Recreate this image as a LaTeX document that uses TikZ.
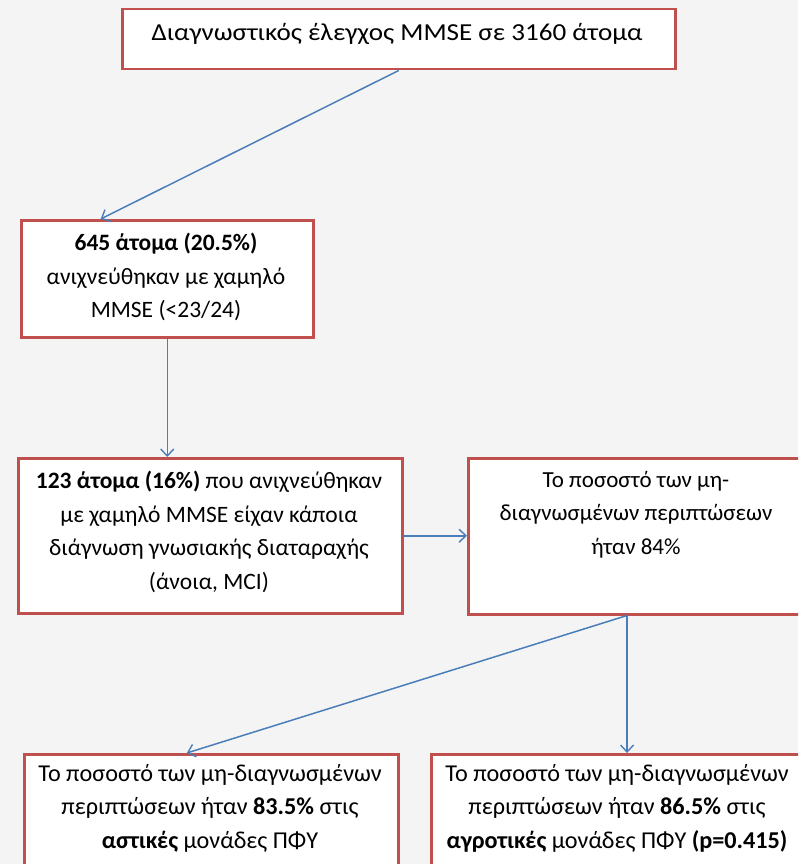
\documentclass[tikz,border=0pt]{standalone}
\usepackage{fontspec}
\setmainfont{Carlito}
\usetikzlibrary{arrows.meta,calc}
\definecolor{boxred}{HTML}{C0504D}
\definecolor{arrowblue}{HTML}{4A7EBB}
\definecolor{bgray}{HTML}{F4F4F4}
\begin{document}
\begin{tikzpicture}[x=1pt,y=-1pt,
  box/.style={draw=boxred, line width=2.5pt, fill=white, inner sep=0pt, anchor=north west},
  txt/.style={anchor=base, align=center, inner sep=0pt, font=\fontsize{23.5}{33.5}\selectfont},
  conn/.style={draw=arrowblue, line width=1.5pt, -{Straight Barb[length=7pt,width=13pt,line width=1.4pt]}}
]
\useasboundingbox (0,0) rectangle (798,864);
\fill[bgray] (0,0) rectangle (798,864);
\clip (0,0) rectangle (798,864);

% boxes
\node[box, minimum width=553pt, minimum height=60pt] (b1) at (121,8) {};
\node[box, minimum width=292pt, minimum height=117pt] (b2) at (20,219) {};
\node[box, minimum width=384pt, minimum height=155pt] (b3) at (17,457) {};
\node[box, minimum width=338pt, minimum height=156pt] (b4) at (467,457) {};
\node[box, minimum width=374pt, minimum height=130pt] (b5) at (23,753) {};
\node[box, minimum width=374pt, minimum height=130pt] (b6) at (430,753) {};

% texts
\node[txt, font=\fontsize{24.4}{33.5}\selectfont] (t1) at (397,41) {\scalebox{1.11}[1]{Διαγνωστικός έλεγχος MMSE σε 3160 άτομα}};
\node[txt, anchor=north] (t2) at (166,233) {\textbf{645 άτομα (20.5\%)}\\ανιχνεύθηκαν με χαμηλό\\MMSE (<23/24)};
\node[txt, anchor=north] (t3) at (209,471) {\textbf{123 άτομα (16\%)} που ανιχνεύθηκαν\\με χαμηλό MMSE είχαν κάποια\\διάγνωση γνωσιακής διαταραχής\\(άνοια, MCI)};
\node[txt, anchor=north, font=\fontsize{23}{33.5}\selectfont] (t4) at (636,471) {Το ποσοστό των μη-\\διαγνωσμένων περιπτώσεων\\ήταν 84\%};
\node[txt, anchor=north, font=\fontsize{24.2}{33.5}\selectfont] (t5) at (210,764) {Το ποσοστό των μη-διαγνωσμένων\\περιπτώσεων ήταν \textbf{83.5\%} στις\\\textbf{αστικές} μονάδες ΠΦΥ};
\node[txt, anchor=north, font=\fontsize{24.2}{33.5}\selectfont] (t6) at (617,764) {Το ποσοστό των μη-διαγνωσμένων\\περιπτώσεων ήταν \textbf{86.5\%} στις\\\textbf{αγροτικές} μονάδες ΠΦΥ \textbf{(p=0.415)}};

% connectors
\coordinate (s4) at ($(b4.south west)!0.47!(b4.south east)$);
\draw[conn] (b1.south) -- ($(b2.north west)!0.274!(b2.north east)$);
\draw[conn] (b2.south) -- (b2.south |- b3.north);
\draw[conn] (b3.east) -- (b3.east -| b4.west);
\draw[conn] (s4) -- (s4 |- b6.north);
\draw[conn] (s4) -- ($(b5.north west)!0.435!(b5.north east)$);
\end{tikzpicture}
\end{document}
